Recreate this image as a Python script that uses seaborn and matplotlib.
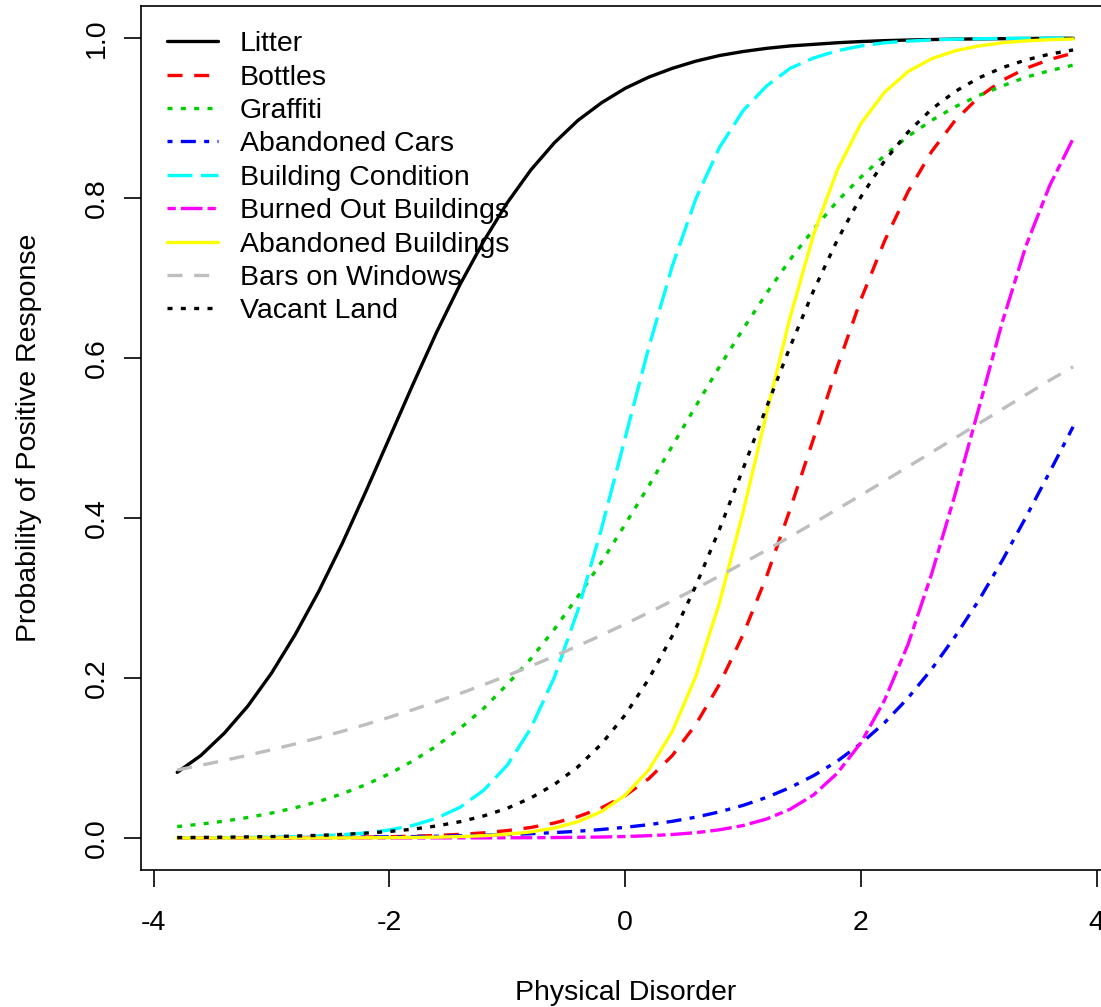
import matplotlib
matplotlib.use("Agg")
import matplotlib.pyplot as plt
import seaborn as sns

# latent trait grid (Physical Disorder)
theta = [-3.8, -3.6, -3.4, -3.2, -3.0, -2.8, -2.6, -2.4, -2.2, -2.0,
         -1.8, -1.6, -1.4, -1.2, -1.0, -0.8, -0.6, -0.4, -0.2, 0.0,
         0.2, 0.4, 0.6, 0.8, 1.0, 1.2, 1.4, 1.6, 1.8, 2.0,
         2.2, 2.4, 2.6, 2.8, 3.0, 3.2, 3.4, 3.6, 3.8]

# probabilities
litter = [0.082, 0.103, 0.131, 0.165, 0.206, 0.254, 0.308, 0.368, 0.433, 0.500,
          0.567, 0.632, 0.692, 0.746, 0.794, 0.835, 0.869, 0.897, 0.919, 0.937,
          0.951, 0.962, 0.971, 0.978, 0.983, 0.987, 0.990, 0.992, 0.994, 0.9955,
          0.9966, 0.9974, 0.998, 0.9985, 0.9988, 0.9991, 0.9993, 0.9995, 0.9996]
bottles = [0.0001, 0.0001, 0.0001, 0.0002, 0.0003, 0.0004, 0.0005, 0.0008, 0.0011, 0.0015,
           0.0022, 0.0031, 0.0045, 0.0064, 0.0092, 0.0131, 0.0187, 0.0266, 0.0377, 0.053,
           0.074, 0.103, 0.142, 0.192, 0.254, 0.327, 0.411, 0.500, 0.589, 0.673,
           0.746, 0.808, 0.858, 0.897, 0.926, 0.947, 0.962, 0.973, 0.981]
graffiti = [0.0142, 0.0173, 0.0210, 0.0256, 0.0311, 0.0377, 0.0456, 0.0552, 0.0666, 0.0802,
            0.0963, 0.115, 0.137, 0.162, 0.192, 0.224, 0.261, 0.302, 0.345, 0.392,
            0.440, 0.490, 0.540, 0.589, 0.636, 0.681, 0.723, 0.761, 0.796, 0.826,
            0.853, 0.877, 0.897, 0.914, 0.928, 0.940, 0.951, 0.959, 0.966]
cars = [0.0002, 0.0002, 0.0003, 0.0003, 0.0004, 0.0005, 0.0007, 0.0009, 0.0011, 0.0014,
        0.0017, 0.0021, 0.0027, 0.0034, 0.0042, 0.0053, 0.0067, 0.0084, 0.0106, 0.0133,
        0.0166, 0.0208, 0.026, 0.0326, 0.0407, 0.0507, 0.063, 0.078, 0.096, 0.118,
        0.144, 0.175, 0.211, 0.252, 0.297, 0.347, 0.401, 0.457, 0.514]
building = [0.0002, 0.0003, 0.0004, 0.0006, 0.001, 0.0016, 0.0025, 0.004, 0.0063, 0.010,
            0.0157, 0.0246, 0.0384, 0.0596, 0.091, 0.137, 0.201, 0.285, 0.387, 0.500,
            0.613, 0.715, 0.799, 0.863, 0.909, 0.940, 0.962, 0.975, 0.984, 0.990,
            0.994, 0.996, 0.9975, 0.9984, 0.999, 0.9994, 0.9996, 0.9997, 0.9998]
burned = [0.0, 0.0, 0.0, 0.0, 0.0, 0.0, 0.0, 0.0, 0.0, 0.0,
          0.0, 0.0001, 0.0001, 0.0001, 0.0002, 0.0003, 0.0005, 0.0008, 0.0012, 0.0018,
          0.0028, 0.0043, 0.0066, 0.0102, 0.0155, 0.0237, 0.0359, 0.054, 0.081, 0.119,
          0.172, 0.242, 0.330, 0.430, 0.537, 0.645, 0.740, 0.815, 0.874]
aband_bldg = [0.0, 0.0, 0.0, 0.0, 0.0, 0.0001, 0.0001, 0.0001, 0.0002, 0.0004,
              0.0006, 0.0010, 0.0017, 0.0028, 0.0046, 0.0076, 0.0124, 0.0203, 0.0331, 0.0534,
              0.085, 0.133, 0.202, 0.294, 0.407, 0.531, 0.651, 0.755, 0.835, 0.893,
              0.932, 0.958, 0.974, 0.984, 0.990, 0.994, 0.9964, 0.9978, 0.9987]
bars = [0.085, 0.0908, 0.0969, 0.1034, 0.1103, 0.1175, 0.1252, 0.1333, 0.1419, 0.1509,
        0.1603, 0.1703, 0.1806, 0.1915, 0.2029, 0.2148, 0.2272, 0.2401, 0.2535, 0.2674,
        0.2817, 0.2965, 0.3117, 0.3274, 0.3435, 0.3599, 0.3766, 0.3937, 0.4110, 0.4285,
        0.4462, 0.4641, 0.4820, 0.500, 0.518, 0.536, 0.554, 0.572, 0.589]
vacant = [0.0005, 0.0007, 0.0009, 0.0013, 0.0017, 0.0024, 0.0032, 0.0044, 0.0060, 0.0081,
          0.0110, 0.0150, 0.0203, 0.0275, 0.0371, 0.0500, 0.0669, 0.0890, 0.1176, 0.1538,
          0.1986, 0.2526, 0.3154, 0.3858, 0.4613, 0.5387, 0.6142, 0.6846, 0.7474, 0.8014,
          0.8462, 0.8824, 0.9110, 0.9331, 0.9500, 0.9629, 0.9725, 0.9797, 0.9850]

items = ["Litter", "Bottles", "Graffiti", "Abandoned Cars", "Building Condition",
         "Burned Out Buildings", "Abandoned Buildings", "Bars on Windows", "Vacant Land"]
curves = [litter, bottles, graffiti, cars, building, burned, aband_bldg, bars, vacant]

xticks = [-4, -2, 0, 2, 4]
yticks = [0.0, 0.2, 0.4, 0.6, 0.8, 1.0]
ytick_labels = ["0.0", "0.2", "0.4", "0.6", "0.8", "1.0"]

# R default palette and line types 1..6
colors = ["black", "#FF0000", "#00CD00", "#0000FF", "#00FFFF",
          "#FF00FF", "#FFFF00", "#BEBEBE", "black"]
dash_styles = [None, (4.5, 3.5), (1.5, 2.5), (1.5, 2.5, 4.5, 2.5), (7.5, 2.5),
               (2.5, 1.5, 6.5, 1.5), None, (4.5, 3.5), (1.5, 2.5)]

sns.set_style("ticks")
plt.rcParams["font.family"] = ["Liberation Sans", "DejaVu Sans"]
plt.rcParams["axes.unicode_minus"] = False
plt.rcParams["text.color"] = "black"
fs = 20.5

fig = plt.figure(figsize=(11.01, 10.07), dpi=100)
ax = fig.add_axes([0.1284, 0.1361, 0.8788, 0.858])

for name, vals, col, dash in zip(items, curves, colors, dash_styles):
    kw = {} if dash is None else {"dashes": dash}
    sns.lineplot(x=theta, y=vals, color=col, lw=2.4, label=name,
                 errorbar=None, ax=ax, **kw)

ax.set_xlim(-4.104, 4.104)
ax.set_ylim(-0.04, 1.04)
ax.set_xticks(xticks)
ax.set_xticklabels([str(t) for t in xticks])
ax.set_yticks(yticks)
ax.set_yticklabels(ytick_labels, rotation=90, va="center")

ax.tick_params(direction="out", length=12, width=1.2, colors="black", labelsize=fs)
ax.tick_params(axis="x", pad=17)
ax.tick_params(axis="y", pad=11)
for s in ax.spines.values():
    s.set_visible(True)
    s.set_color("black")
    s.set_linewidth(1.2)

ax.set_xlabel("Physical Disorder", fontsize=fs, color="black")
ax.set_ylabel("Probability of Positive Response", fontsize=fs, color="black")
ax.xaxis.set_label_coords(0.5, -0.142)
ax.xaxis.label.set_va("center")
ax.yaxis.set_label_coords(-0.1165, 0.5)
ax.yaxis.label.set_va("center")

ax.legend(loc="upper left", bbox_to_anchor=(0.1517, 0.969), bbox_transform=fig.transFigure,
          frameon=False, fontsize=fs, handlelength=1.79, handletextpad=0.77,
          labelspacing=0.26, borderpad=0, borderaxespad=0, labelcolor="black")

fig.savefig("out.png", dpi=100)
